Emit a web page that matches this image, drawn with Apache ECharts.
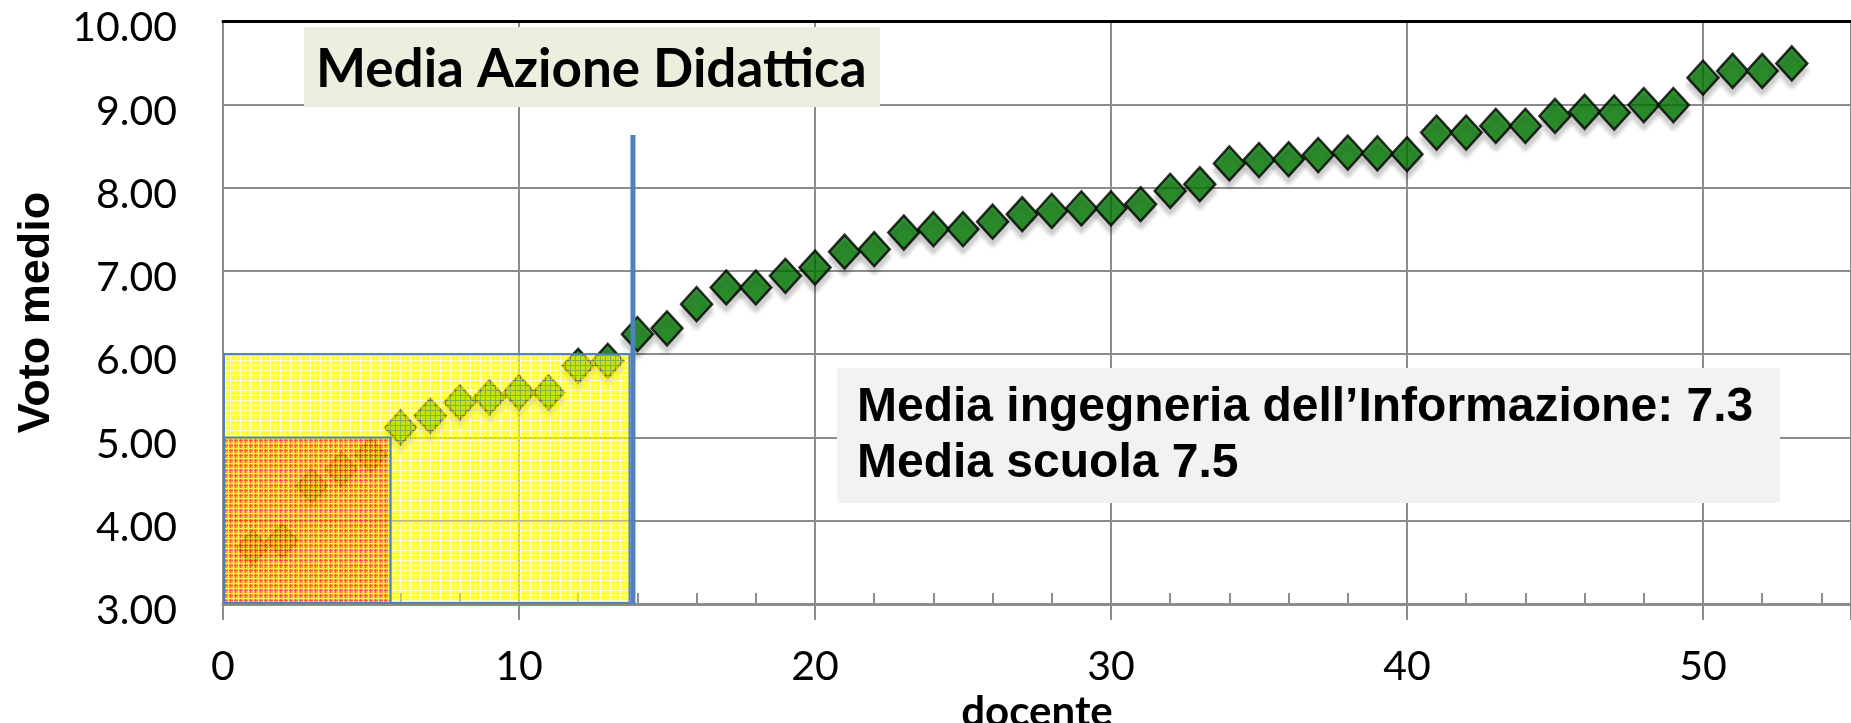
<!DOCTYPE html>
<html><head><meta charset="utf-8">
<script src="https://cdn.jsdelivr.net/npm/echarts/dist/echarts.min.js"></script>
<style>html,body{margin:0;padding:0;background:#fff}#c{width:1851px;height:723px}</style>
</head><body><div id="c"></div>
<script>
// ---- data ----
const docenti = [];
for (let i = 1; i <= 53; i++) docenti.push(i);
const votoMedio = [3.68, 3.76, 4.42, 4.62, 4.79, 5.12, 5.26, 5.42, 5.48, 5.54,
  5.54, 5.86, 5.92, 6.24, 6.31, 6.60, 6.80, 6.80, 6.94, 7.04,
  7.23, 7.26, 7.46, 7.50, 7.50, 7.59, 7.68, 7.72, 7.75, 7.75,
  7.80, 7.96, 8.04, 8.29, 8.33, 8.34, 8.39, 8.42, 8.41, 8.40,
  8.66, 8.66, 8.74, 8.74, 8.86, 8.91, 8.90, 8.99, 8.99, 9.32,
  9.40, 9.40, 9.49];
const xTickValues = [0, 10, 20, 30, 40, 50];
const yTickValues = [3, 4, 5, 6, 7, 8, 9, 10];
// highlighted bands: [x0, y0, x1, y1]
const yellowBand = [0, 3, 13.7, 6.0];
const redBand = [0, 3, 5.63, 5.0];
const cutLine = [[13.85, 3], [13.85, 8.63]];
const titleText = 'Media Azione Didattica';
const noteLine1 = 'Media ingegneria dell\u2019Informazione: 7.3';
const noteLine2 = 'Media scuola 7.5';

// ---- texture patterns ----
function makePattern(base, lines) {
  const c = document.createElement('canvas');
  c.width = 5; c.height = 5;
  const g = c.getContext('2d');
  g.fillStyle = base; g.fillRect(0, 0, 5, 5);
  lines.forEach(l => {
    g.clearRect(l.x, l.y, l.w, l.h);
    g.fillStyle = l.c; g.fillRect(l.x, l.y, l.w, l.h);
  });
  return { image: c, repeat: 'repeat' };
}
const yellowPat = makePattern('rgba(255,255,0,0.75)', [
  { x: 0, y: 0, w: 5, h: 1, c: 'rgba(255,255,120,0.4)' },
  { x: 0, y: 0, w: 1, h: 5, c: 'rgba(255,255,120,0.4)' }
]);
const redPat = makePattern('rgba(255,125,55,0.58)', [
  { x: 0, y: 0, w: 5, h: 1, c: 'rgba(255,25,10,0.72)' },
  { x: 0, y: 0, w: 1, h: 5, c: 'rgba(255,25,10,0.72)' },
  { x: 0, y: 3, w: 5, h: 1, c: 'rgba(255,220,60,0.5)' },
  { x: 3, y: 0, w: 1, h: 5, c: 'rgba(255,220,60,0.5)' }
]);
const patterns = [yellowPat, redPat];

const chart = echarts.init(document.getElementById('c'), null, { renderer: 'canvas' });
const GRID = '#8c8c8c';
const option = {
  animation: false,
  backgroundColor: '#fff',
  grid: { left: 223, right: 0, top: 21, bottom: 119, containLabel: false, outerBoundsMode: 'none' },
  xAxis: [
    {
      type: 'value', min: 0, max: 55, interval: 10, position: 'bottom',
      axisLine: { show: true, onZero: false, lineStyle: { color: GRID, width: 3 } },
      axisTick: { show: true, inside: false, length: 16, lineStyle: { color: GRID, width: 2 } },
      axisLabel: {
        margin: 42, fontFamily: 'Lato', fontSize: 41, color: '#000',
        formatter: v => (xTickValues.indexOf(v) >= 0 ? String(v) : '')
      },
      splitLine: { show: true, lineStyle: { color: GRID, width: 2 } },
      name: 'docente', nameLocation: 'middle', nameGap: 71,
      nameTextStyle: { fontFamily: 'Lato', fontWeight: 'bold', fontSize: 42, color: '#000', verticalAlign: 'top' }
    },
    {
      type: 'value', min: 0, max: 55, interval: 2, position: 'bottom',
      axisLine: { show: false, onZero: false },
      axisTick: { show: true, inside: true, length: 11, lineStyle: { color: GRID, width: 2 } },
      axisLabel: { show: false }, splitLine: { show: false }
    },
    {
      type: 'value', min: 0, max: 55, position: 'top',
      axisLine: { show: true, onZero: false, lineStyle: { color: '#000', width: 3 } },
      axisTick: { show: false }, axisLabel: { show: false }, splitLine: { show: false }
    }
  ],
  yAxis: {
    type: 'value', min: 3, max: 10, interval: 1,
    axisLine: { show: true, onZero: false, lineStyle: { color: GRID, width: 2 } },
    axisTick: { show: false },
    axisLabel: {
      margin: 46, fontFamily: 'Lato', fontSize: 41, color: '#000',
      verticalAlign: 'top', lineHeight: 14,
      formatter: v => (yTickValues.indexOf(v) >= 0 ? v.toFixed(2) : '')
    },
    splitLine: { show: true, lineStyle: { color: GRID, width: 2 } },
    name: 'Voto medio', nameLocation: 'middle', nameRotate: 90, nameGap: 164,
    nameTextStyle: { fontFamily: 'Liberation Sans', fontWeight: 'bold', fontSize: 45, color: '#000' }
  },
  series: [
    {
      type: 'scatter', xAxisIndex: 0, z: 2,
      data: docenti.map((d, i) => [d, votoMedio[i]]),
      symbol: 'diamond', symbolSize: [31, 34],
      itemStyle: {
        color: '#007800', borderColor: '#000', borderWidth: 2.5,
        shadowColor: 'rgba(0,0,0,0.22)', shadowBlur: 4, shadowOffsetY: 7
      },
      silent: true
    },
    {
      type: 'custom', xAxisIndex: 0, z: 3, silent: true,
      data: [yellowBand, redBand],
      encode: { x: [0, 2], y: [1, 3] },
      renderItem: function (params, api) {
        const p0 = api.coord([api.value(0), api.value(1)]);
        const p1 = api.coord([api.value(2), api.value(3)]);
        return {
          type: 'rect',
          shape: { x: p0[0] + 1, y: p1[1], width: p1[0] - p0[0], height: p0[1] - p1[1] - 1 },
          style: { fill: patterns[params.dataIndex], stroke: '#4f81bd', lineWidth: 2 }
        };
      }
    },
    {
      type: 'line', xAxisIndex: 0, z: 4, silent: true,
      data: cutLine, symbol: 'none',
      lineStyle: { color: '#4f81bd', width: 5 }
    }
  ],
  graphic: [
    { type: 'rect', x: 304, y: 27, shape: { width: 576, height: 80 }, style: { fill: '#ebf0de' }, z: 10 },
    { type: 'text', x: 316, y: 70, style: { text: titleText, font: 'bold 53px Lato', fill: '#000', verticalAlign: 'middle' }, z: 11 },
    { type: 'rect', x: 837, y: 368, shape: { width: 943, height: 135 }, style: { fill: '#f2f2f2' }, z: 10 },
    { type: 'text', x: 857, y: 408, style: { text: noteLine1, font: 'bold 48px "Liberation Sans"', fill: '#000', verticalAlign: 'middle' }, z: 11 },
    { type: 'text', x: 857, y: 464, style: { text: noteLine2, font: 'bold 48px "Liberation Sans"', fill: '#000', verticalAlign: 'middle' }, z: 11 }
  ]
};
chart.setOption(option);
</script>
</body></html>
